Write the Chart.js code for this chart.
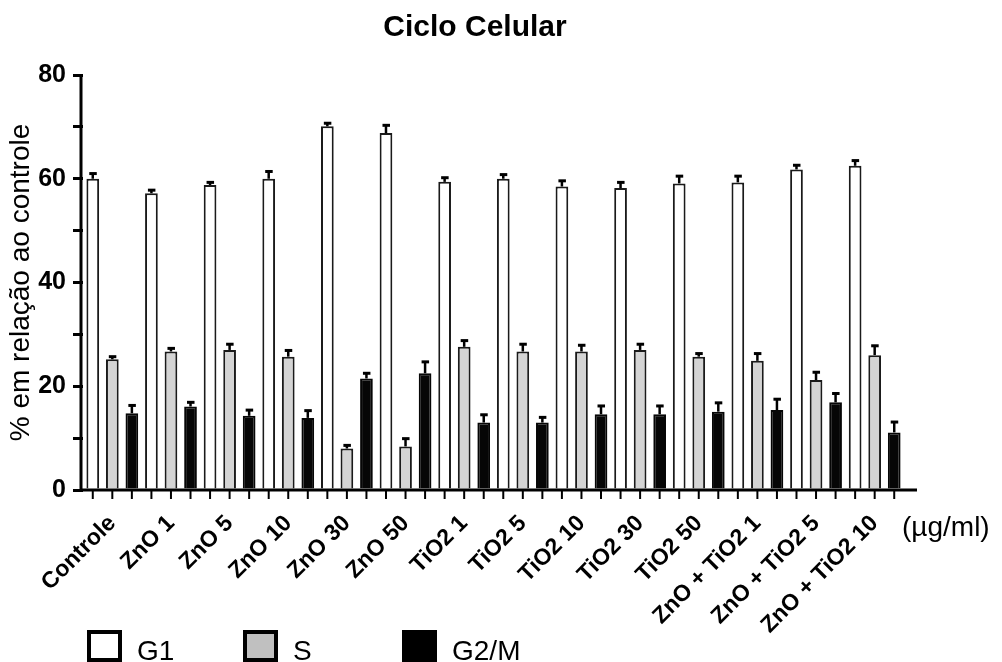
<!DOCTYPE html>
<html>
<head>
<meta charset="utf-8">
<script src="https://cdn.jsdelivr.net/npm/chart.js@4/dist/chart.umd.min.js"></script>
<style>
  html, body { margin: 0; padding: 0; background: #ffffff; }
  #wrap { width: 1002px; height: 662px; position: relative; }
</style>
</head>
<body>
<div id="wrap"><canvas id="c" width="1002" height="662"></canvas></div>
<script>
// Treatments (µg/ml)
const categories = [
  'Controle', 'ZnO 1', 'ZnO 5', 'ZnO 10', 'ZnO 30', 'ZnO 50',
  'TiO2 1', 'TiO2 5', 'TiO2 10', 'TiO2 30', 'TiO2 50',
  'ZnO + TiO2 1', 'ZnO + TiO2 5', 'ZnO + TiO2 10'
];

// Cell-cycle phase percentages (mean) and their error (upper bar)
const g1Values  = [60.0, 57.2, 58.8, 60.0, 70.1, 68.8, 59.4, 60.0, 58.5, 58.2, 59.1, 59.3, 61.8, 62.5];
const g1Errors  = [1.0, 0.6, 0.5, 1.4, 0.6, 1.5, 0.8, 0.8, 1.1, 1.1, 1.4, 1.2, 0.8, 1.0];
const sValues   = [25.2, 26.7, 27.0, 25.7, 8.0, 8.4, 27.6, 26.7, 26.7, 27.0, 25.7, 24.9, 21.2, 26.0];
const sErrors   = [0.5, 0.6, 1.1, 1.2, 0.6, 1.5, 1.2, 1.4, 1.2, 1.1, 0.6, 1.4, 1.5, 1.8];
const g2mValues = [14.8, 16.1, 14.3, 13.9, 21.5, 22.5, 13.0, 13.0, 14.6, 14.6, 15.1, 15.4, 16.9, 11.1];
const g2mErrors = [1.5, 0.8, 1.1, 1.4, 1.0, 2.2, 1.5, 1.0, 1.6, 1.6, 1.7, 2.1, 1.7, 2.0];

const seriesLabels = ['G1', 'S', 'G2/M'];
const yTickValues = [0, 20, 40, 60, 80];

const FONT = "'Liberation Sans', Arial, Helvetica, sans-serif";
const errorSets = [g1Errors, sErrors, g2mErrors];

// Upper error bars: stem + short thick cap
const errorBars = {
  id: 'errorBars',
  afterDatasetsDraw(chart) {
    const ctx = chart.ctx;
    const y = chart.scales.y;
    ctx.save();
    ctx.strokeStyle = '#000';
    ctx.fillStyle = '#000';
    chart.data.datasets.forEach((ds, i) => {
      const meta = chart.getDatasetMeta(i);
      const errs = errorSets[i];
      meta.data.forEach((bar, j) => {
        const top = y.getPixelForValue(ds.data[j]);
        const yErr = y.getPixelForValue(ds.data[j] + errs[j]);
        ctx.lineWidth = 2.5;
        ctx.beginPath();
        ctx.moveTo(bar.x, top);
        ctx.lineTo(bar.x, yErr);
        ctx.stroke();
        ctx.fillRect(bar.x - 3.5, yErr - 1.5, 7.5, 3);
      });
    });
    ctx.restore();
  }
};

// Axis lines, one tick mark under each bar, title, unit note and legend
const decorations = {
  id: 'decorations',
  afterDraw(chart) {
    const ctx = chart.ctx;
    const area = chart.chartArea;
    ctx.save();
    ctx.strokeStyle = '#000';
    ctx.lineWidth = 3;
    ctx.beginPath();
    ctx.moveTo(81, area.top - 1);
    ctx.lineTo(81, area.bottom + 1.5);
    ctx.moveTo(79.5, area.bottom);
    ctx.lineTo(917, area.bottom);
    ctx.stroke();

    ctx.lineWidth = 2;
    chart.data.datasets.forEach((ds, i) => {
      chart.getDatasetMeta(i).data.forEach(bar => {
        ctx.beginPath();
        ctx.moveTo(bar.x, area.bottom);
        ctx.lineTo(bar.x, area.bottom + 9);
        ctx.stroke();
      });
    });

    ctx.fillStyle = '#000';
    ctx.textBaseline = 'alphabetic';
    ctx.textAlign = 'center';
    ctx.font = 'bold 30px ' + FONT;
    ctx.fillText('Ciclo Celular', 475, 36);

    ctx.textAlign = 'left';
    ctx.font = '28px ' + FONT;
    ctx.fillText('(\u00b5g/ml)', 902, 536);

    const legendX = [87, 243, 402];
    chart.data.datasets.forEach((ds, i) => {
      const x = legendX[i];
      ctx.fillStyle = ds.legendFill;
      ctx.fillRect(x, 630, 35, 32);
      ctx.lineWidth = 4;
      ctx.strokeStyle = '#000';
      ctx.strokeRect(x + 2, 632, 31, 28);
      ctx.fillStyle = '#000';
      ctx.font = '28px ' + FONT;
      ctx.fillText(ds.label, x + 50, 660);
    });
    ctx.restore();
  }
};

new Chart(document.getElementById('c'), {
  type: 'bar',
  data: {
    labels: categories,
    datasets: [
      { label: seriesLabels[0], data: g1Values, backgroundColor: '#ffffff', legendFill: '#ffffff',
        borderColor: '#1a1a1a', borderWidth: 2, barPercentage: 0.65, categoryPercentage: 1.0 },
      { label: seriesLabels[1], data: sValues, backgroundColor: '#d4d4d4', legendFill: '#c0c0c0',
        borderColor: '#1a1a1a', borderWidth: 2, barPercentage: 0.65, categoryPercentage: 1.0 },
      { label: seriesLabels[2], data: g2mValues, backgroundColor: '#060606', legendFill: '#000000',
        borderColor: '#060606', borderWidth: 2, barPercentage: 0.65, categoryPercentage: 1.0 }
    ]
  },
  options: {
    responsive: false,
    animation: false,
    layout: { padding: { left: 0, right: 98, top: 75, bottom: 0 } },
    plugins: {
      legend: { display: false },
      title: { display: false },
      tooltip: { enabled: false }
    },
    scales: {
      x: {
        grid: { display: false },
        border: { display: false },
        ticks: {
          autoSkip: false, minRotation: 45, maxRotation: 45,
          color: '#000', padding: 12,
          font: { family: FONT, size: 23, weight: 'bold' }
        },
        afterFit(scale) { scale.height = 172; }
      },
      y: {
        min: 0, max: 80,
        grid: { display: true, drawOnChartArea: false, drawTicks: true,
                tickLength: 10, lineWidth: 3, color: '#000' },
        border: { display: false },
        ticks: {
          stepSize: 10, color: '#000', padding: 7,
          font: { family: FONT, size: 25, weight: 'bold' },
          callback: v => (yTickValues.includes(v) ? String(v) : '')
        },
        title: {
          display: true, text: '% em relação ao controle', color: '#000',
          font: { family: FONT, size: 28 }, padding: { top: 4, bottom: 0 }
        },
        afterFit(scale) { scale.width = 83; }
      }
    }
  },
  plugins: [errorBars, decorations]
});
</script>
</body>
</html>
